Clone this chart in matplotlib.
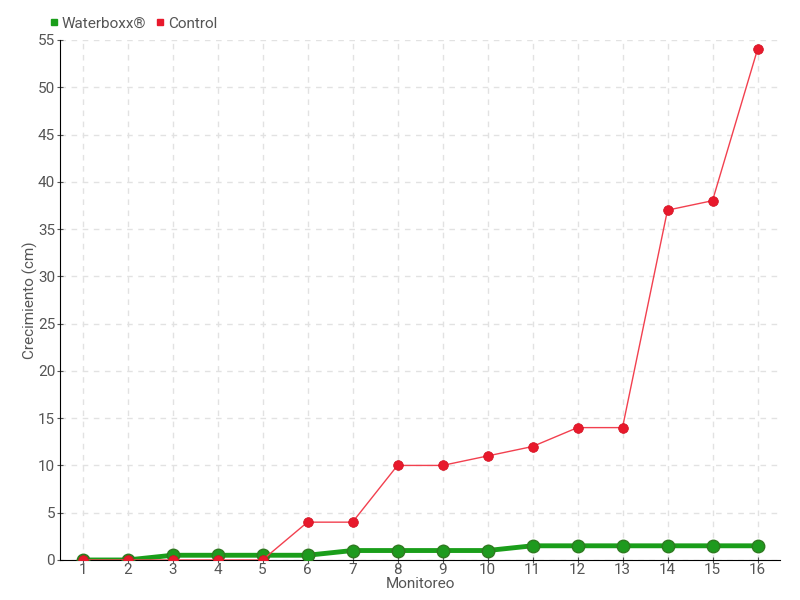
import numpy as np
import matplotlib
matplotlib.use("Agg")
import matplotlib.pyplot as plt
from matplotlib.lines import Line2D

monitoreo = list(range(1, 17))
waterboxx = [0, 0, 0.5, 0.5, 0.5, 0.5, 1, 1, 1, 1, 1.5, 1.5, 1.5, 1.5, 1.5, 1.5]
control = [0, 0, 0, 0, 0, 4, 4, 10, 10, 11, 12, 14, 14, 37, 38, 54]

plt.rcParams['font.family'] = ['Roboto', 'DejaVu Sans']
txt = '#555555'

fig = plt.figure(figsize=(8, 6), dpi=100)
ax = fig.add_axes([0.075, 0.0667, 0.9, 0.8667])

ax.plot(monitoreo, waterboxx, color='#1a9e1a', lw=3.5, marker='o', ms=9,
        mfc='#1e9a1e', mec='#2f7a20', mew=1, zorder=3, label='Waterboxx®')
ax.plot(monitoreo, control, color='#f2404f', lw=1, marker='o', ms=7,
        mfc='#e8192c', mec='#d01020', mew=0.5, zorder=4, label='Control')

ax.set_xlim(0.5, 16.5)
ax.set_ylim(0, 55)
ax.set_xticks(monitoreo)
ax.set_yticks(range(0, 56, 5))
ax.grid(True, color='#e2e2e2', ls=(0, (4, 4)), lw=1)
ax.set_axisbelow(True)

for s in ['top', 'right']:
    ax.spines[s].set_visible(False)
ax.tick_params(colors=txt, labelsize=11, length=5, direction='inout')
ax.tick_params(axis='x', pad=0)
ax.tick_params(axis='y', pad=1)
for t in ax.get_xticklabels() + ax.get_yticklabels():
    t.set_color(txt)

ax.set_xlabel('Monitoreo', color=txt, fontsize=11, labelpad=0)
ax.set_ylabel('Crecimiento (cm)', color=txt, fontsize=11, labelpad=0)

handles = [Line2D([], [], ls='none', marker='s', ms=5, color='#1a9e1a'),
           Line2D([], [], ls='none', marker='s', ms=5, color='#e8192c')]
leg = fig.legend(handles, ['Waterboxx®', 'Control'], loc='upper left',
                 bbox_to_anchor=(0.045, 0.995), ncol=2, frameon=False,
                 fontsize=11, handlelength=0.6, handletextpad=0.2,
                 columnspacing=0.6)
for t in leg.get_texts():
    t.set_color(txt)

fig.savefig('out.png', dpi=100)
